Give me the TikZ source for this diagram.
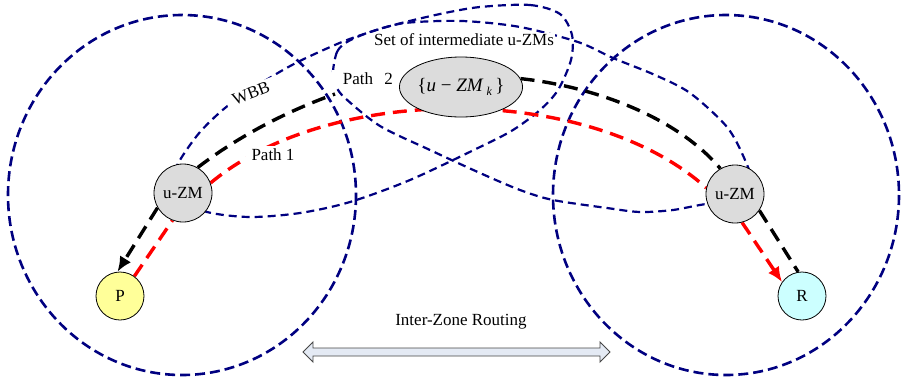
\documentclass[tikz,border=0pt]{standalone}
\usepackage{fontspec}
\setmainfont{Liberation Serif}
\usetikzlibrary{arrows.meta,shapes.geometric}
\pgfdeclarelayer{bg}
\pgfdeclarelayer{mid}
\pgfsetlayers{bg,mid,main}
\definecolor{navy}{RGB}{0,0,128}
\definecolor{zmgray}{RGB}{220,220,220}
\definecolor{pyellow}{RGB}{255,255,153}
\definecolor{rcyan}{RGB}{204,255,255}
\definecolor{arrowfill}{RGB}{228,234,244}
\definecolor{arrowedge}{RGB}{70,70,70}
\begin{document}
\begin{tikzpicture}[x=1pt,y=-1pt,
  txt/.style={font=\fontsize{17}{20}\selectfont},
  circ/.style={draw=navy, line width=2.6pt, dash pattern=on 10pt off 5pt},
  zone/.style={draw=navy, line width=2.2pt, dash pattern=on 8pt off 5pt},
  bpath/.style={draw=black, line width=3.4pt, dash pattern=on 14pt off 8pt},
  rpath/.style={draw=red, line width=3.4pt, dash pattern=on 14pt off 8pt},
  tipb/.style={-{Latex[length=15pt,width=13pt]}},
  znode/.style={circle, draw=black, line width=0.8pt, fill=zmgray, minimum size=58pt, inner sep=0pt, txt},
  endnode/.style={circle, draw=black, line width=0.8pt, minimum size=48pt, inner sep=0pt, txt},
  lbl/.style={txt, inner sep=2pt},
  dblarrow/.style={draw=arrowedge, line width=0.9pt, fill=arrowfill, line join=miter}
]
\useasboundingbox (0,0) rectangle (902,381);

% zones and sets
\begin{pgfonlayer}{bg}
\draw[circ] (182,195) ellipse [x radius=174, y radius=180];
\draw[circ] (726,195) ellipse [x radius=173, y radius=180];
\draw[zone] plot[smooth cycle] coordinates {
  (480,7) (530,5) (560,14) (572,35) (571,60) (558,90) (540,110) (513,130)
  (480,147) (410,180) (350,202) (300,213) (250,217) (207,212) (178,198)
  (172,180) (180,160) (200,132) (225,108) (255,87) (283,70) (306,58)
  (347,40) (390,26) (440,14)};
\draw[zone] plot[smooth cycle] coordinates {
  (333,72) (337,52) (347,42) (370,32) (405,23) (462,21) (520,27) (578,42)
  (613,58) (655,75) (690,93) (727,127) (745,160) (752,185) (735,205)
  (707,204) (673,210) (640,212) (607,208) (553,200) (520,190) (480,173)
  (430,150) (380,126) (345,98) (336,86)};
\end{pgfonlayer}

% nodes
\node[znode] (uzl) at (183,193) {u-ZM};
\node[znode] (uzr) at (735,194) {u-ZM};
\node[endnode, fill=pyellow] (P) at (120,296) {P};
\node[endnode, fill=rcyan] (R) at (802,296) {R};
\node[ellipse, draw=black, line width=0.8pt, fill=zmgray, minimum width=96pt, minimum height=60pt, inner sep=0pt, font=\fontsize{19}{22}\selectfont] (zmk) at (461,87)
  {\{\textit{u} − \textit{ZM}\,\raisebox{-0.45ex}{\fontsize{12}{13}\selectfont\textit{k}}\,\}};

% labels
\node[lbl, fill=white, inner sep=1pt] (setlbl) at (464,40) {Set of intermediate u-ZMs};
\node[lbl, fill=white, text width=58pt, align=right, inner sep=3pt] (p2lbl) at (364,79) {Path\ \ 2};
\node[lbl, fill=white, inner xsep=6pt, inner ysep=3pt] (p1lbl) at (273,155) {Path 1};
\node[lbl, fill=white, rotate=21, inner xsep=7pt, inner ysep=2pt] (wbb) at (251,93) {WBB};
\node[lbl] (izr) at (461,322) {Inter-Zone Routing};
\coordinate (p2end) at (335,94);

% paths
\begin{pgfonlayer}{mid}
\draw[bpath, tipb] (uzl.210) -- (P.96);
\draw[bpath] (uzl.60) .. controls (240,135) and (290,110) .. (p2end);
\draw[bpath] (zmk.8) .. controls (590,86) and (675,115) .. (uzr.120);
\draw[bpath] (uzr.-34) -- (R.99);
\draw[rpath] (P.54) -- (uzl.249);
\draw[rpath] (uzl.20) .. controls (330,83) and (590,83) .. (uzr.168);
\draw[rpath, tipb] (uzr.-76) -- (R.145);
\end{pgfonlayer}

% inter-zone double arrow
\draw[dblarrow] (303,352) -- (313,342) -- (313,348) -- (600,348) -- (600,342)
  -- (610,352) -- (600,362) -- (600,356) -- (313,356) -- (313,362) -- cycle;
\end{tikzpicture}
\end{document}
